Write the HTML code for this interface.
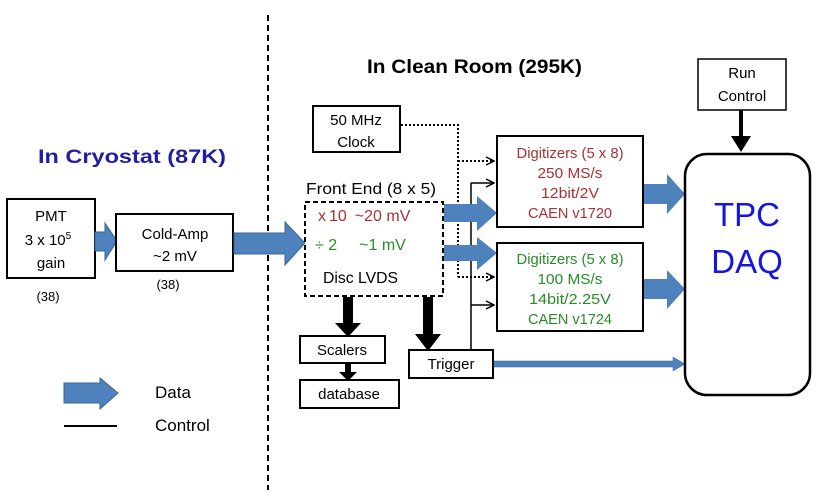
<!DOCTYPE html>
<html><head><meta charset="utf-8"><style>html,body{margin:0;padding:0;background:#fff}svg{display:block}</style></head>
<body>
<svg width="830" height="503" viewBox="0 0 830 503" xmlns="http://www.w3.org/2000/svg" font-family="Liberation Sans, sans-serif">
<defs>
<marker id="ah" markerWidth="10" markerHeight="10" refX="9" refY="5" orient="auto" markerUnits="userSpaceOnUse"><path d="M1,1 L9,5 L1,9" fill="none" stroke="#000" stroke-width="1.5"/></marker>
</defs>
<line x1="268" y1="15" x2="268" y2="490" stroke="#000" stroke-width="2" stroke-dasharray="6,4"/>
<text x="367" y="73" font-size="19" font-weight="bold" textLength="215" lengthAdjust="spacingAndGlyphs">In Clean Room (295K)</text>
<text x="38" y="163" font-size="19" font-weight="bold" fill="#1f1f9f" textLength="188" lengthAdjust="spacingAndGlyphs">In Cryostat (87K)</text>

<rect x="7" y="199" width="88" height="79" fill="#fff" stroke="#000" stroke-width="2"/>
<text x="51" y="221" font-size="15" text-anchor="middle">PMT</text>
<text x="48" y="245" font-size="15" text-anchor="middle">3 x 10<tspan font-size="10" dy="-6">5</tspan></text>
<text x="51" y="268" font-size="15" text-anchor="middle">gain</text>
<text x="48" y="301" font-size="13" text-anchor="middle">(38)</text>
<path d="M95,232 H105 V223 L117,241 L105,260 V251 H95 Z" fill="#4f81bd" stroke="#3a6694"/>

<rect x="116" y="214" width="117" height="57" fill="#fff" stroke="#000" stroke-width="2"/>
<text x="175" y="239" font-size="15" text-anchor="middle">Cold-Amp</text>
<text x="175" y="261" font-size="15" text-anchor="middle">~2 mV</text>
<text x="168" y="289" font-size="13" text-anchor="middle">(38)</text>
<path d="M234,233 H285 V222 L305,243 L285,265 V254 H234 Z" fill="#4f81bd" stroke="#3a6694"/>

<text x="306" y="194" font-size="16" textLength="130" lengthAdjust="spacingAndGlyphs">Front End (8 x 5)</text>
<rect x="305" y="202" width="138" height="94" fill="#fff" stroke="#000" stroke-width="2" stroke-dasharray="5,3"/>
<text x="318" y="221" font-size="16" fill="#a83232">x<tspan dx="3">10</tspan><tspan dx="8">~20 mV</tspan></text>
<text x="315" y="250" font-size="16" fill="#2a8a2a">÷ 2<tspan dx="22">~1 mV</tspan></text>
<text x="323" y="283" font-size="16" textLength="75" lengthAdjust="spacingAndGlyphs">Disc LVDS</text>

<rect x="313" y="106" width="87" height="46" fill="#fff" stroke="#000" stroke-width="2"/>
<text x="356" y="125" font-size="15" text-anchor="middle">50 MHz</text>
<text x="356" y="147" font-size="15" text-anchor="middle">Clock</text>
<path d="M401,125 H458 V277" fill="none" stroke="#000" stroke-width="2" stroke-dasharray="2,2"/>
<line x1="458" y1="161" x2="494" y2="161" stroke="#000" stroke-width="2" stroke-dasharray="2,2" marker-end="url(#ah)"/>
<line x1="458" y1="277" x2="494" y2="277" stroke="#000" stroke-width="2" stroke-dasharray="2,2" marker-end="url(#ah)"/>

<path d="M471,351 V183" fill="none" stroke="#000" stroke-width="1.5"/>
<line x1="471" y1="183" x2="494" y2="183" stroke="#000" stroke-width="1.5" marker-end="url(#ah)"/>
<line x1="471" y1="305" x2="494" y2="305" stroke="#000" stroke-width="1.5" marker-end="url(#ah)"/>

<path d="M444,204 H477 V196 L497,213 L477,231 V222 H444 Z" fill="#4f81bd"/>
<path d="M444,245 H477 V237 L497,253 L477,270 V261 H444 Z" fill="#4f81bd"/>

<rect x="497" y="136" width="146" height="91" fill="#fff" stroke="#000" stroke-width="2"/>
<g fill="#a83232" font-size="15" text-anchor="middle">
<text x="570" y="158" textLength="107" lengthAdjust="spacingAndGlyphs">Digitizers (5 x 8)</text>
<text x="570" y="178" textLength="65" lengthAdjust="spacingAndGlyphs">250 MS/s</text>
<text x="570" y="198" textLength="58" lengthAdjust="spacingAndGlyphs">12bit/2V</text>
<text x="570" y="218" textLength="84" lengthAdjust="spacingAndGlyphs">CAEN v1720</text>
</g>
<rect x="497" y="243" width="146" height="88" fill="#fff" stroke="#000" stroke-width="2"/>
<g fill="#2a8a2a" font-size="15" text-anchor="middle">
<text x="570" y="264" textLength="107" lengthAdjust="spacingAndGlyphs">Digitizers (5 x 8)</text>
<text x="570" y="284" textLength="65" lengthAdjust="spacingAndGlyphs">100 MS/s</text>
<text x="570" y="304" textLength="82" lengthAdjust="spacingAndGlyphs">14bit/2.25V</text>
<text x="570" y="324" textLength="84" lengthAdjust="spacingAndGlyphs">CAEN v1724</text>
</g>
<path d="M644,184 H667 V174 L685,194 L667,214 V204 H644 Z" fill="#4f81bd"/>
<path d="M644,279 H667 V270 L685,289 L667,309 V299 H644 Z" fill="#4f81bd"/>

<path d="M343,297 H353 V323 H361 L348,337 L335,323 H343 Z" fill="#000"/>
<path d="M423,297 H433 V334 H441 L428,351 L415,334 H423 Z" fill="#000"/>
<path d="M345,364 H351 V372 H357 L348,381 L339,372 H345 Z" fill="#000"/>

<rect x="300" y="336" width="85" height="27" fill="#fff" stroke="#000" stroke-width="2"/>
<text x="342" y="355" font-size="15" text-anchor="middle">Scalers</text>
<rect x="300" y="380" width="99" height="28" fill="#fff" stroke="#000" stroke-width="2"/>
<text x="349" y="399" font-size="15" text-anchor="middle">database</text>
<rect x="409" y="350" width="84" height="28" fill="#fff" stroke="#000" stroke-width="2"/>
<text x="451" y="369" font-size="15" text-anchor="middle">Trigger</text>
<path d="M494,361 H673 V357 L685,364 L673,371 V367 H494 Z" fill="#4f81bd" stroke="#3a6694" stroke-width="0.5"/>

<rect x="685" y="154" width="125" height="241" rx="22" fill="#fff" stroke="#000" stroke-width="2.5"/>
<text x="747" y="226" font-size="33" fill="#1515e0" text-anchor="middle">TPC</text>
<text x="747" y="273" font-size="33" fill="#1515e0" text-anchor="middle">DAQ</text>
<rect x="698" y="59" width="88" height="51" fill="#fff" stroke="#000" stroke-width="1.5"/>
<text x="742" y="78" font-size="15" text-anchor="middle">Run</text>
<text x="742" y="101" font-size="15" text-anchor="middle">Control</text>
<path d="M739,110 H743 V136 H751 L741,152 L731,136 H739 Z" fill="#000"/>

<path d="M64,383 H100 V378 L118,393 L100,409 V403 H64 Z" fill="#4f81bd" stroke="#3a6694"/>
<text x="155" y="398" font-size="17">Data</text>
<line x1="64" y1="426" x2="117" y2="426" stroke="#000" stroke-width="2"/>
<text x="155" y="431" font-size="17">Control</text>
</svg>
</body></html>
